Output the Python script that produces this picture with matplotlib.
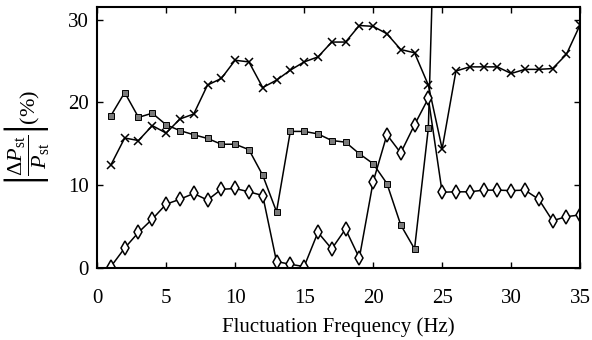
import matplotlib
matplotlib.use("Agg")
import matplotlib.pyplot as plt

plt.rcParams['font.family'] = ['Liberation Serif', 'DejaVu Serif']
plt.rcParams['mathtext.fontset'] = 'custom'
plt.rcParams['mathtext.rm'] = 'Liberation Serif'
plt.rcParams['mathtext.it'] = 'Liberation Serif:italic'

# frequencies (Hz)
freq = list(range(1, 36))

# cross series
cross_vals = [12.45, 15.7, 15.4, 17.2, 16.3, 18.0, 18.6, 22.1, 22.9, 25.1,
              24.9, 21.8, 22.7, 23.9, 24.9, 25.5, 27.3, 27.3, 29.3, 29.2,
              28.3, 26.4, 26.0, 22.1, 14.4, 23.8, 24.3, 24.3, 24.3, 23.5,
              24.0, 24.0, 24.1, 25.8, 29.4]

# square series (last point runs off the top of the plot)
square_freq = list(range(1, 26))
square_vals = [18.4, 21.2, 18.2, 18.7, 17.3, 16.6, 16.1, 15.65, 14.95, 14.95,
               14.3, 11.2, 6.8, 16.5, 16.5, 16.2, 15.4, 15.2, 13.8, 12.6,
               10.2, 5.2, 2.3, 16.9, 75.0]

# diamond series
diamond_vals = [0.16, 2.4, 4.3, 5.9, 7.7, 8.3, 9.0, 8.2, 9.5, 9.6,
                9.2, 8.75, 0.77, 0.44, 0.16, 4.3, 2.3, 4.7, 1.2, 10.4,
                16.1, 13.9, 17.3, 20.5, 9.15, 9.2, 9.2, 9.4, 9.4, 9.35,
                9.4, 8.3, 5.7, 6.2, 6.4]

fig = plt.figure(figsize=(5.92, 3.4), dpi=100)
ax = fig.add_axes([0.164, 0.212, 0.816, 0.7665])

ax.plot(freq, cross_vals, color='black', lw=1.1,
        marker='x', ms=6, mew=1.1)
ax.plot(square_freq, square_vals, color='black', lw=1.1,
        marker='s', ms=4.8, mfc='#7a7a7a', mec='black', mew=0.7)
ax.plot(freq, diamond_vals, color='black', lw=1.1,
        marker='d', ms=7, mfc='white', mec='black', mew=1.1)

ax.set_xlim(0, 35)
ax.set_ylim(0, 31.5)
ax.set_xticks(range(0, 36, 5))
ax.set_yticks([0, 10, 20, 30])
ax.tick_params(direction='in', top=True, right=True, labelsize=15,
               length=4, width=1, pad=6)
ax.tick_params(axis='x', pad=15)
for sp in ax.spines.values():
    sp.set_linewidth(1.5)

ax.set_xlabel('Fluctuation Frequency (Hz)', fontsize=15, labelpad=7)
ax.set_ylabel(r'$\left|\dfrac{\Delta P_{\rm st}}{P_{\rm st}}\right|$(%)',
              fontsize=16, labelpad=12)

fig.savefig('out.png', dpi=100)
